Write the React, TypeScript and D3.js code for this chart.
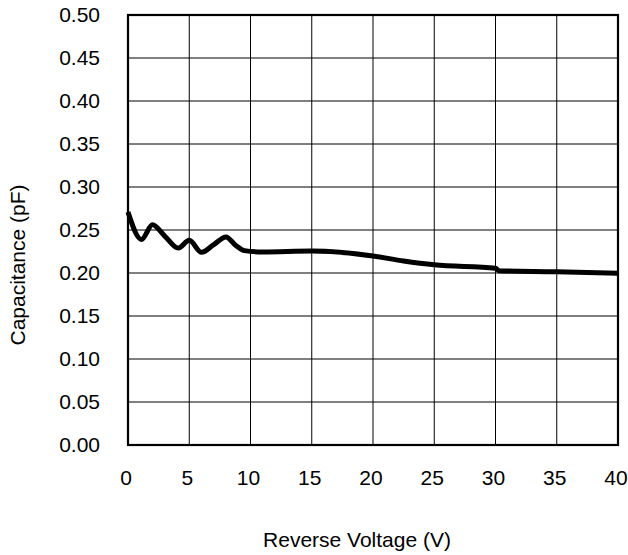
import React, { useEffect, useRef } from 'react';
import * as d3 from 'd3';

// values
const voltage = [0, 1.1, 2.0, 3.0, 4.1, 5.0, 6.0, 7.0, 8.0, 8.8, 9.5, 11, 15, 20, 22.5, 25, 30, 30.3, 35, 40];
const capacitance = [0.271, 0.239, 0.256, 0.243, 0.229, 0.238, 0.224, 0.233, 0.242, 0.232, 0.226, 0.2245, 0.2255, 0.2198, 0.214, 0.2095, 0.2055, 0.2025, 0.2015, 0.1997];
const xTicks = [0, 5, 10, 15, 20, 25, 30, 35, 40];
const yTicks = [0, 0.05, 0.1, 0.15, 0.2, 0.25, 0.3, 0.35, 0.4, 0.45, 0.5];
const xTitle = 'Reverse Voltage (V)';
const yTitle = 'Capacitance (pF)';

const W = 628;
const H = 555;
const font = '"Liberation Sans", Arial, sans-serif';
const fontSize = '21px';

const App = () => {
    const ref = useRef<SVGSVGElement | null>(null);

    useEffect(() => {
        const margin = { top: 15, right: 10, bottom: 110, left: 128 };
        const width = W - margin.left - margin.right;   // 490
        const height = H - margin.top - margin.bottom;  // 430

        const root = d3.select(ref.current);
        root.selectAll('*').remove();
        const svg = root.append('g').attr('transform', `translate(${margin.left},${margin.top})`);

        const x = d3.scaleLinear().domain([0, 40]).range([0, width]);
        const y = d3.scaleLinear().domain([0, 0.5]).range([height, 0]);

        // grid
        svg.append('g').selectAll('line')
            .data(xTicks)
            .join('line')
            .attr('x1', d => x(d)).attr('x2', d => x(d))
            .attr('y1', 0).attr('y2', height)
            .attr('stroke', '#000').attr('stroke-width', 1);
        svg.append('g').selectAll('line')
            .data(yTicks)
            .join('line')
            .attr('x1', 0).attr('x2', width)
            .attr('y1', d => y(d)).attr('y2', d => y(d))
            .attr('stroke', '#000').attr('stroke-width', 1);

        // frame
        svg.append('rect')
            .attr('width', width).attr('height', height)
            .attr('fill', 'none').attr('stroke', '#000').attr('stroke-width', 2.2);

        // tick labels
        svg.append('g').selectAll('text')
            .data(yTicks)
            .join('text')
            .attr('x', -28)
            .attr('y', d => y(d))
            .attr('dy', '0.35em')
            .attr('text-anchor', 'end')
            .style('font-family', font).style('font-size', fontSize)
            .text(d => d3.format('.2f')(d));

        svg.append('g').selectAll('text')
            .data(xTicks)
            .join('text')
            .attr('x', d => x(d) - 2)
            .attr('y', height + 40)
            .attr('text-anchor', 'middle')
            .style('font-family', font).style('font-size', fontSize)
            .text(d => d);

        // titles
        root.append('text')
            .attr('x', 357).attr('y', 547)
            .attr('text-anchor', 'middle')
            .style('font-family', font).style('font-size', fontSize)
            .text(xTitle);
        root.append('text')
            .attr('transform', 'translate(25,265) rotate(-90)')
            .attr('text-anchor', 'middle')
            .style('font-family', font).style('font-size', fontSize)
            .text(yTitle);

        // curve
        const pts = voltage.map((v, i) => [v, capacitance[i]] as [number, number]);
        const line = d3.line<[number, number]>()
            .x(d => x(d[0]))
            .y(d => y(d[1]))
            .curve(d3.curveMonotoneX);
        svg.append('path')
            .datum(pts)
            .attr('d', line)
            .attr('fill', 'none')
            .attr('stroke', '#000')
            .attr('stroke-width', 5)
            .attr('stroke-linejoin', 'round');
    }, []);

    return (
        <div style={{ position: 'fixed', left: 0, top: 0, background: '#fff' }}>
            <svg ref={ref} width={W} height={H} style={{ display: 'block' }}></svg>
        </div>
    );
};

export default App;
